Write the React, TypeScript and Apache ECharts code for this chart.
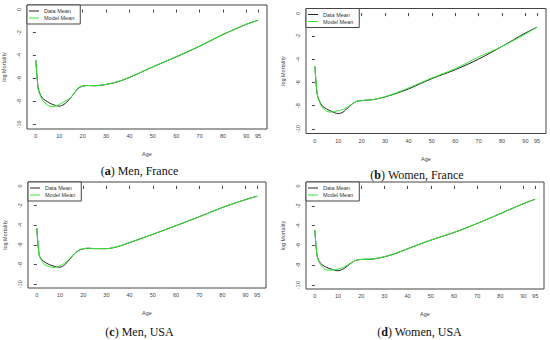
import React, { useEffect, useRef } from "react";
import * as echarts from "echarts";

const ages = [0, 1, 2, 3, 5, 7, 10, 12, 14, 16, 18, 20, 22, 25, 30, 35, 40, 50, 60, 70, 80, 90, 95];

const menFranceData = [-4.41, -6.87, -7.45, -7.75, -8.03, -8.25, -8.41, -8.26, -7.88, -7.39, -6.87, -6.67, -6.61, -6.64, -6.52, -6.29, -5.91, -4.99, -4.12, -3.19, -2.17, -1.28, -0.93];
const menFranceModel = [-4.41, -6.95, -7.55, -7.95, -8.32, -8.46, -8.26, -8.03, -7.8, -7.39, -6.82, -6.67, -6.61, -6.62, -6.52, -6.27, -5.9, -4.98, -4.1, -3.17, -2.16, -1.27, -0.93];

const womenFranceData = [-4.6, -7.04, -7.61, -7.99, -8.28, -8.48, -8.68, -8.56, -8.19, -7.84, -7.61, -7.56, -7.52, -7.47, -7.24, -6.92, -6.55, -5.66, -4.89, -3.97, -2.87, -1.72, -1.21];
const womenFranceModel = [-4.6, -7.0, -7.7, -8.1, -8.48, -8.55, -8.42, -8.33, -8.1, -7.84, -7.61, -7.56, -7.52, -7.47, -7.22, -6.87, -6.47, -5.6, -4.8, -3.79, -2.87, -1.81, -1.21];

const menUSAData = [-4.32, -7.03, -7.47, -7.7, -7.97, -8.16, -8.28, -8.04, -7.53, -6.96, -6.59, -6.42, -6.35, -6.39, -6.39, -6.18, -5.78, -4.93, -4.05, -3.14, -2.2, -1.39, -1.05];
const menUSAModel = [-4.32, -7.0, -7.6, -7.95, -8.21, -8.31, -8.14, -7.87, -7.47, -6.93, -6.56, -6.4, -6.35, -6.38, -6.39, -6.17, -5.77, -4.92, -4.04, -3.13, -2.2, -1.39, -1.05];

const womenUSAData = [-4.46, -7.08, -7.65, -7.92, -8.22, -8.38, -8.56, -8.42, -8.09, -7.72, -7.48, -7.42, -7.4, -7.38, -7.15, -6.8, -6.34, -5.47, -4.7, -3.79, -2.79, -1.78, -1.34];
const womenUSAModel = [-4.46, -7.05, -7.75, -8.1, -8.49, -8.5, -8.39, -8.26, -7.99, -7.7, -7.48, -7.42, -7.4, -7.37, -7.14, -6.79, -6.33, -5.46, -4.69, -3.78, -2.78, -1.78, -1.34];

const xTicks = [0, 10, 20, 30, 40, 50, 60, 70, 80, 90, 95];
const yTicks = [0, -2, -4, -6, -8, -10];
const seriesNames = ["Data Mean", "Model Mean"];

const panels = [
  { letter: "a", caption: " Men, France", data: menFranceData, model: menFranceModel },
  { letter: "b", caption: " Women, France", data: womenFranceData, model: womenFranceModel },
  { letter: "c", caption: " Men, USA", data: menUSAData, model: menUSAModel },
  { letter: "d", caption: " Women, USA", data: womenUSAData, model: womenUSAModel },
];

// layout (pixels)
const boxes = [
  { left: 27, top: 5, right: 267, bottom: 129, capX: 139.5, capY: 171 },
  { left: 306, top: 8.5, right: 546, bottom: 133.5, capX: 417, capY: 175 },
  { left: 28, top: 182, right: 266, bottom: 288, capX: 139.5, capY: 332 },
  { left: 306, top: 182, right: 544, bottom: 289, capX: 419.5, capY: 332 },
];

const FONT = "Liberation Sans";
const AX = "#444";

export default function App() {
  const ref = useRef<HTMLDivElement>(null);
  useEffect(() => {
    document.body.style.margin = "0";
    if (!ref.current) return;
    const chart = echarts.init(ref.current, undefined, { renderer: "svg" });
    const grid: any[] = [];
    const xAxis: any[] = [];
    const yAxis: any[] = [];
    const series: any[] = [];
    const legend: any[] = [];
    const graphic: any[] = [];
    panels.forEach((p, i) => {
      const b = boxes[i];
      grid.push({
        left: b.left,
        top: b.top,
        width: b.right - b.left,
        height: b.bottom - b.top,
        show: true,
        borderColor: AX,
        borderWidth: 1,
        backgroundColor: "transparent",
        containLabel: false,
      });
      xAxis.push({
        gridIndex: i,
        type: "value",
        min: -3.8,
        max: 98.8,
        axisLine: { show: false },
        axisTick: { show: true, customValues: xTicks, length: 3, lineStyle: { color: AX, width: 1 } },
        axisLabel: { customValues: xTicks, fontSize: 5.5, color: AX, margin: 4, fontFamily: FONT },
        splitLine: { show: false },
        name: "Age",
        nameLocation: "middle",
        nameGap: 22,
        nameTextStyle: { fontSize: 5.5, color: AX, fontFamily: FONT },
      });
      yAxis.push({
        gridIndex: i,
        type: "value",
        min: -10.4,
        max: 0.4,
        axisLine: { show: false },
        axisTick: { show: true, customValues: yTicks, length: 3, lineStyle: { color: AX, width: 1 } },
        axisLabel: { customValues: yTicks, fontSize: 5.5, color: AX, margin: 5, rotate: 90, fontFamily: FONT },
        splitLine: { show: false },
        name: "log Mortality",
        nameLocation: "middle",
        nameGap: 20,
        nameRotate: 90,
        nameTextStyle: { fontSize: 5.5, color: AX, fontFamily: FONT },
      });
      series.push({
        name: seriesNames[0],
        type: "line",
        xAxisIndex: i,
        yAxisIndex: i,
        data: ages.map((a, k) => [a, p.data[k]]),
        showSymbol: false,
        smooth: 0.3,
        lineStyle: { color: "#222", width: 1 },
        itemStyle: { color: "#222" },
        z: 2,
      });
      series.push({
        name: seriesNames[1],
        type: "line",
        xAxisIndex: i,
        yAxisIndex: i,
        data: ages.map((a, k) => [a, p.model[k]]),
        showSymbol: false,
        smooth: 0.3,
        lineStyle: { color: "#33ee33", width: 1 },
        itemStyle: { color: "#33ee33" },
        z: 3,
      });
      legend.push({
        left: b.left,
        top: b.top,
        orient: "vertical",
        data: seriesNames,
        icon: "rect",
        itemWidth: 10,
        itemHeight: 1,
        itemGap: 1,
        padding: [3, 6, 3, 2],
        borderColor: AX,
        borderWidth: 1,
        backgroundColor: "#fff",
        itemStyle: { borderWidth: 0 },
        lineStyle: { width: 0 },
        textStyle: { fontSize: 5.5, color: "#333", fontFamily: FONT },
        selectedMode: false,
      });
      graphic.push({
        type: "text",
        x: b.capX,
        y: b.capY,
        style: {
          text: "({b|" + p.letter + "})" + p.caption,
          rich: { b: { fontWeight: "bold", fontSize: 12, fontFamily: "Liberation Serif", fill: "#111" } },
          fontSize: 12,
          fontFamily: "Liberation Serif",
          fill: "#111",
          align: "center",
          verticalAlign: "middle",
        },
      });
    });
    chart.setOption({
      animation: false,
      backgroundColor: "#fff",
      textStyle: { fontFamily: FONT },
      grid,
      xAxis,
      yAxis,
      series,
      legend,
      graphic,
    });
    return () => chart.dispose();
  }, []);
  return <div ref={ref} style={{ width: 550, height: 340 }} />;
}
